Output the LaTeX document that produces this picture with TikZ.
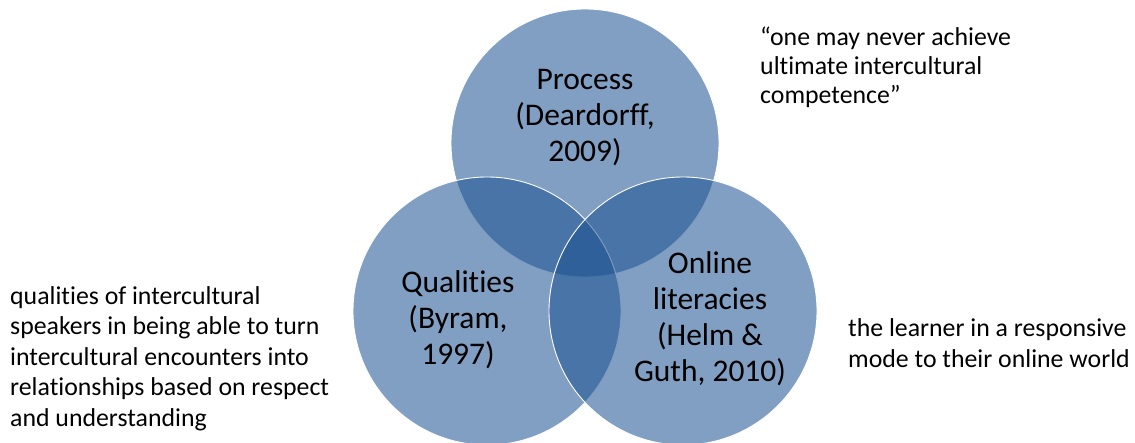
\documentclass[tikz,border=0pt]{standalone}
\usepackage{fontspec}
\setmainfont{Carlito}[Ligatures={NoCommon}]
\definecolor{vennblue}{RGB}{26,80,144}
\tikzset{
  vennset/.style={circle, minimum size=268pt, inner sep=0pt,
    fill=vennblue, fill opacity=0.55, draw=white, line width=0.9pt},
  setlabel/.style={align=center, inner sep=0pt, anchor=base,
    font=\fontsize{31.5}{36}\selectfont},
  note/.style={align=left, inner sep=0pt, anchor=base west,
    font=\fontsize{25.8}{30.5}\selectfont},
}
\begin{document}
\begin{tikzpicture}[x=1pt, y=-1pt]
  \useasboundingbox (0,0) rectangle (1135,442);
  % the three overlapping sets
  \node[vennset] (setP) at (585,143) {};
  \node[vennset] (setQ) at (487,311) {};
  \node[vennset] (setO) at (683,311) {};
  % labels inside the sets (anchored at the baseline of the last line)
  \node[setlabel] (labP) at (585,161) {Process\\(Deardorff,\\2009)};
  \node[setlabel] (labQ) at (458,364) {Qualities\\(Byram,\\1997)};
  \node[setlabel] (labO) at (710,381) {Online\\literacies\\(Helm \&\\Guth, 2010)};
  % explanatory notes
  \node[note, font=\fontsize{25.8}{29}\selectfont] (noteP) at (760,103) {“one may never achieve\\ultimate intercultural\\competence”};
  \node[note] (noteQ) at (10,426) {qualities of intercultural\\speakers in being able to turn\\intercultural encounters into\\relationships based on respect\\and understanding};
  \node[note] (noteO) at (848,367) {the learner in a responsive\\mode to their online world};
\end{tikzpicture}
\end{document}
